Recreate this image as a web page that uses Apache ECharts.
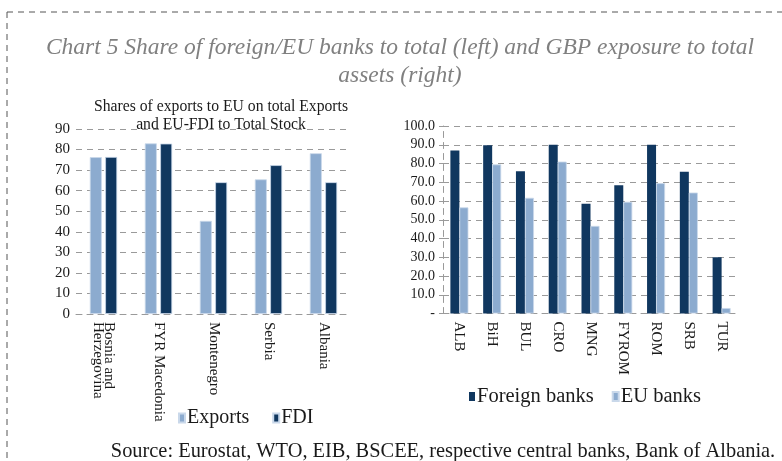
<!DOCTYPE html>
<html>
<head>
<meta charset="utf-8">
<script src="https://cdn.jsdelivr.net/npm/echarts@6/dist/echarts.min.js"></script>
<style>html,body{margin:0;padding:0;background:#fff}#c{width:782px;height:461px}</style>
</head>
<body>
<div id="c"></div>
<script>
const leftCategories = ['Bosnia and\nHerzegovina', 'FYR Macedonia', 'Montenegro', 'Serbia', 'Albania'];
const exportsValues = [76.3, 83.0, 45.3, 65.5, 78.2];
const fdiValues = [76.4, 82.9, 64.1, 72.4, 64.1];
const leftTicks = [0, 10, 20, 30, 40, 50, 60, 70, 80, 90];

const rightCategories = ['ALB', 'BiH', 'BUL', 'CRO', 'MNG', 'FYROM', 'ROM', 'SRB', 'TUR'];
const foreignBanks = [87.0, 89.8, 75.9, 90.0, 58.5, 68.4, 90.0, 75.6, 30.0];
const euBanks = [56.6, 79.5, 61.7, 81.0, 46.7, 59.6, 69.5, 64.5, 2.9];
const rightTicks = [0, 10, 20, 30, 40, 50, 60, 70, 80, 90, 100];

const LIGHT = '#8cabcf';
const DARK = '#10375f';
const SERIF = '"Liberation Serif", "DejaVu Serif", serif';
const GRID = '#9a9a9a';

const chart = echarts.init(document.getElementById('c'), null, {renderer: 'canvas'});
chart.setOption({
  animation: false,
  backgroundColor: '#fff',
  textStyle: {fontFamily: SERIF},
  title: [
    {text: 'Chart 5 Share of foreign/EU banks to total (left) and GBP exposure to total\nassets (right)',
     left: 395, top: 29, textAlign: 'center',
     textStyle: {fontFamily: SERIF, fontStyle: 'italic', fontWeight: 'normal', fontSize: 23.5, color: '#808080', lineHeight: 28}},
    {text: 'Shares of exports to EU on total Exports\nand EU-FDI to Total Stock',
     left: 216, top: 93, textAlign: 'center',
     textStyle: {fontFamily: SERIF, fontWeight: 'normal', fontSize: 15.7, color: '#1a1a1a', lineHeight: 18}},
    {text: 'Source: Eurostat, WTO, EIB, BSCEE, respective central banks, Bank of Albania.',
     left: 438, top: 437, textAlign: 'center',
     textStyle: {fontFamily: SERIF, fontWeight: 'normal', fontSize: 20.4, color: '#1a1a1a'}}
  ],
  graphic: [
    {type: 'line', shape: {x1: 7, y1: 12, x2: 782, y2: 12}, style: {stroke: '#555', lineWidth: 1, lineDash: [6, 5]}},
    {type: 'line', shape: {x1: 7, y1: 12, x2: 7, y2: 461}, style: {stroke: '#555', lineWidth: 1, lineDash: [6, 5]}}
  ],
  legend: [
    {data: ['Exports', 'FDI'], left: 173, top: 403, itemGap: 23, itemWidth: 6, itemHeight: 9,
     icon: 'rect', textStyle: {fontFamily: SERIF, fontSize: 20, color: '#1a1a1a', padding: [0, 0, 0, -3]}},
    {data: ['Foreign banks', 'EU banks'], left: 464, top: 381, itemGap: 18, itemWidth: 6, itemHeight: 9,
     icon: 'rect', textStyle: {fontFamily: SERIF, fontSize: 20.5, color: '#1a1a1a', padding: [0, 0, 0, -3]}}
  ],
  grid: [
    {left: 76, right: 431, top: 129, bottom: 147},
    {left: 443, right: 44, top: 126, bottom: 147.5}
  ],
  xAxis: [
    {type: 'category', gridIndex: 0, data: leftCategories,
     axisLine: {show: true, lineStyle: {color: GRID, type: [6, 5]}},
     axisTick: {show: false},
     axisLabel: {rotate: -90, fontFamily: SERIF, fontSize: 15, color: '#1a1a1a', lineHeight: 11, margin: 8, interval: 0}},
    {type: 'category', gridIndex: 1, data: rightCategories,
     axisLine: {show: true, lineStyle: {color: GRID, type: [6, 5]}},
     axisTick: {show: false},
     axisLabel: {rotate: -90, fontFamily: SERIF, fontSize: 15, color: '#1a1a1a', margin: 8, interval: 0}}
  ],
  yAxis: [
    {type: 'value', gridIndex: 0, min: 0, max: 90, interval: 10,
     axisLine: {show: false}, axisTick: {show: false},
     axisLabel: {fontFamily: SERIF, fontSize: 15, color: '#1a1a1a', margin: 6,
                 formatter: v => leftTicks.includes(v) ? String(v) : ''},
     splitLine: {lineStyle: {color: GRID, type: [6, 5]}}},
    {type: 'value', gridIndex: 1, min: 0, max: 100, interval: 10,
     axisLine: {show: true, lineStyle: {color: GRID, type: [6, 5]}},
     axisTick: {show: true, length: 4, lineStyle: {color: GRID}},
     axisLabel: {fontFamily: SERIF, fontSize: 14, color: '#1a1a1a', margin: 8,
                 formatter: v => rightTicks.includes(v) ? (v === 0 ? '-' : v.toFixed(1)) : ''},
     splitLine: {lineStyle: {color: GRID, type: [6, 5]}}}
  ],
  series: [
    {name: 'Exports', type: 'bar', xAxisIndex: 0, yAxisIndex: 0, data: exportsValues,
     barWidth: 12, barGap: '28%', itemStyle: {color: LIGHT, borderColor: '#c9d8ea', borderWidth: 0.8}},
    {name: 'FDI', type: 'bar', xAxisIndex: 0, yAxisIndex: 0, data: fdiValues,
     barWidth: 12, barGap: '28%', itemStyle: {color: DARK, borderColor: '#c9d8ea', borderWidth: 0.8}},
    {name: 'Foreign banks', type: 'bar', xAxisIndex: 1, yAxisIndex: 1, data: foreignBanks,
     barWidth: 9, barGap: '0%', itemStyle: {color: DARK}},
    {name: 'EU banks', type: 'bar', xAxisIndex: 1, yAxisIndex: 1, data: euBanks,
     barWidth: 9, barGap: '0%', itemStyle: {color: LIGHT, borderColor: '#c9d8ea', borderWidth: 0.8}}
  ]
});
</script>
</body>
</html>
